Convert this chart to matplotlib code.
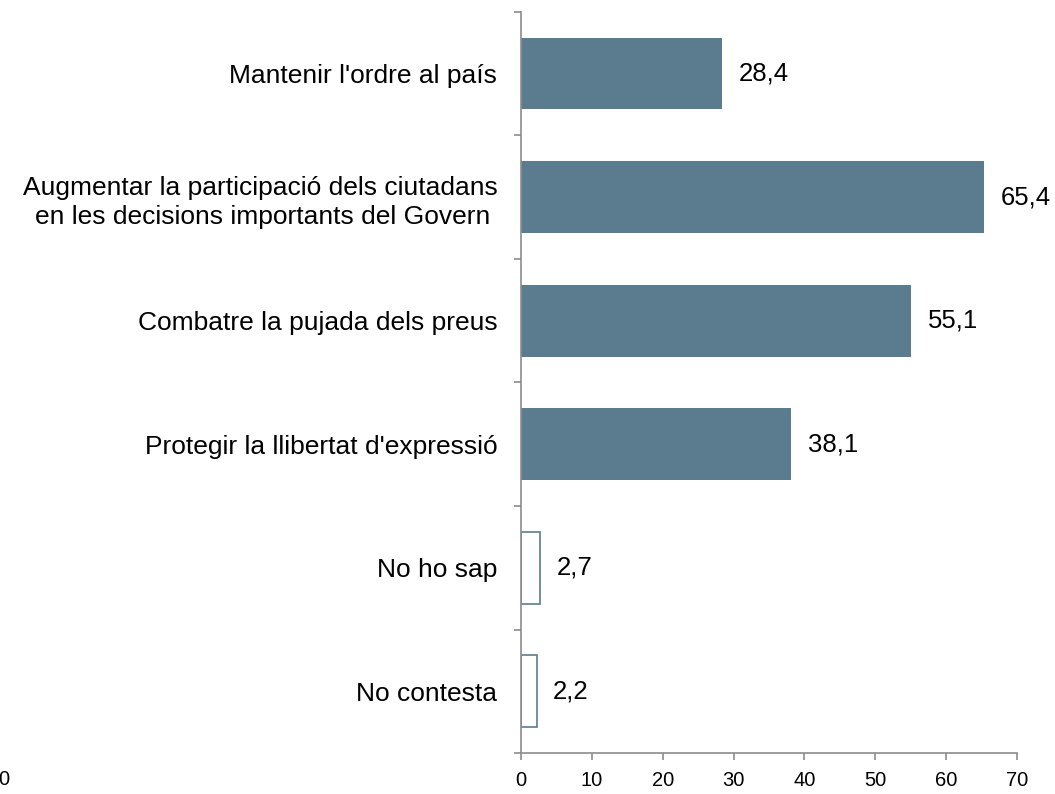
import matplotlib
matplotlib.use('Agg')
import matplotlib.pyplot as plt
import numpy as np

plt.rcParams['font.family'] = ['Liberation Sans', 'DejaVu Sans']

# data
categories = ["Mantenir l'ordre al país",
              "Augmentar la participació dels ciutadans\nen les decisions importants del Govern ",
              "Combatre la pujada dels preus",
              "Protegir la llibertat d'expressió",
              "No ho sap",
              "No contesta"]
values = [28.4, 65.4, 55.1, 38.1, 2.7, 2.2]
filled = [True, True, True, True, False, False]
value_labels = ["28,4", "65,4", "55,1", "38,1", "2,7", "2,2"]

bar_color = '#5b7b8e'
axis_color = '#8c8c8c'

fig = plt.figure(figsize=(10.55, 7.94), dpi=100)
ax = fig.add_axes([0.4938, 0.0516, 0.4702, 0.9334])

y = np.arange(len(categories))
for yi, v, f in zip(y, values, filled):
    if f:
        ax.barh(yi, v, height=0.58, color=bar_color, edgecolor=bar_color, linewidth=0)
    else:
        ax.barh(yi, v, height=0.58, color='white', edgecolor=bar_color, linewidth=1.2)

for yi, v, lab in zip(y, values, value_labels):
    ax.annotate(lab, xy=(v, yi), xytext=(12, 0), textcoords='offset points',
                ha='left', va='center', fontsize=18.5, annotation_clip=False)

ax.set_xlim(0, 70)
ax.set_ylim(len(categories) - 0.5, -0.5)
ax.set_xticks(np.arange(0, 71, 10))
ax.set_yticks(y)
ax.set_yticklabels(categories, fontsize=19, linespacing=1.3)
ax.set_yticks(np.arange(-0.5, len(categories), 1), minor=True)

ax.tick_params(axis='y', which='major', length=0, pad=17)
ax.tick_params(axis='y', which='minor', length=5, color=axis_color, width=1.2)
ax.tick_params(axis='x', length=5, color=axis_color, width=1.2, labelsize=14.5, pad=8)

for s in ['top', 'right']:
    ax.spines[s].set_visible(False)
for s in ['left', 'bottom']:
    ax.spines[s].set_color(axis_color)
    ax.spines[s].set_linewidth(1.2)

# stray axis label at the lower left edge
fig.text(-0.002, 0.006, '0', fontsize=14.5, ha='left', va='bottom')

fig.savefig('out.png', dpi=100)
